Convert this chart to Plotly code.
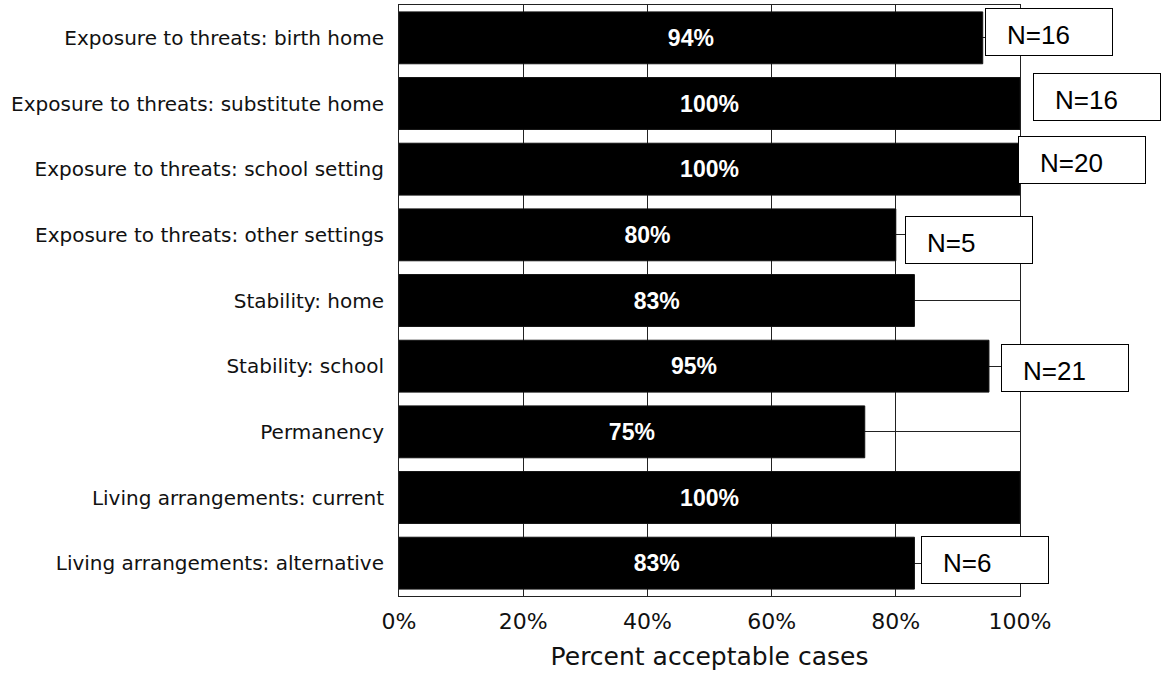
import plotly.graph_objects as go

# Case-review measures, top to bottom
categories = [
    "Exposure to threats: birth home",
    "Exposure to threats: substitute home",
    "Exposure to threats: school setting",
    "Exposure to threats: other settings",
    "Stability: home",
    "Stability: school",
    "Permanency",
    "Living arrangements: current",
    "Living arrangements: alternative",
]
percent_acceptable = [94, 100, 100, 80, 83, 95, 75, 100, 83]

# Sample sizes shown in the callout boxes (measure -> N)
n_categories = [
    "Exposure to threats: birth home",
    "Exposure to threats: substitute home",
    "Exposure to threats: school setting",
    "Exposure to threats: other settings",
    "Stability: school",
    "Living arrangements: alternative",
]
n_values = [16, 16, 20, 5, 21, 6]

x_ticks = [0, 20, 40, 60, 80, 100]

# Pixel offsets of each callout box from the end of its bar (x, y)
box_offsets = [(2, 6), (13, 7), (-2, 9), (9, -5), (12, -2), (7, 3)]

fig = go.Figure()
fig.add_trace(go.Bar(
    x=percent_acceptable,
    y=categories,
    orientation="h",
    marker=dict(color="black", line=dict(color="#111", width=1)),
    text=[f"{v}%" for v in percent_acceptable],
    textposition="inside",
    insidetextanchor="middle",
    constraintext="none",
    textfont=dict(family="Liberation Sans", size=23, color="white", weight="bold"),
    hoverinfo="skip",
))

value_of = dict(zip(categories, percent_acceptable))
BOX_W, BOX_H = 124, 44
for cat, n, (dx, dy) in zip(n_categories, n_values, box_offsets):
    bar_end = value_of[cat]
    # white framed box
    fig.add_annotation(
        x=bar_end, y=cat, xref="x", yref="y",
        text=" ", showarrow=False,
        xanchor="left", yanchor="middle",
        xshift=dx, yshift=dy,
        width=BOX_W, height=BOX_H,
        bgcolor="white", bordercolor="black", borderwidth=1, borderpad=1,
        font=dict(size=10),
    )
    # label inside the box
    fig.add_annotation(
        x=bar_end, y=cat, xref="x", yref="y",
        text=f"N={n}", showarrow=False,
        xanchor="left", yanchor="middle",
        xshift=dx + 20, yshift=dy - 3,
        font=dict(family="Liberation Sans", size=26, color="black"),
    )

fig.update_layout(
    width=1162, height=681,
    margin=dict(l=399, r=142, t=5, b=85),
    paper_bgcolor="white", plot_bgcolor="white",
    bargap=0.21,
    showlegend=False,
)
fig.update_xaxes(
    range=[0, 100],
    tickvals=x_ticks,
    ticktext=[f"{t}%" for t in x_ticks],
    tickfont=dict(family="DejaVu Sans", size=22, color="#111"),
    ticks="", ticklabelstandoff=6,
    showgrid=True, gridcolor="#222", gridwidth=1,
    zeroline=False,
    showline=True, linecolor="#222", linewidth=1, mirror=True,
    title=dict(text="Percent acceptable cases",
               font=dict(family="DejaVu Sans", size=25, color="#111"),
               standoff=14),
)
fig.update_yaxes(
    autorange="reversed",
    tickfont=dict(family="DejaVu Sans", size=20, color="#111"),
    ticks="", ticklabelstandoff=10,
    showgrid=True, gridcolor="#222", gridwidth=1,
    showline=True, linecolor="#222", linewidth=1, mirror=True,
)

fig.write_html("out.html")
